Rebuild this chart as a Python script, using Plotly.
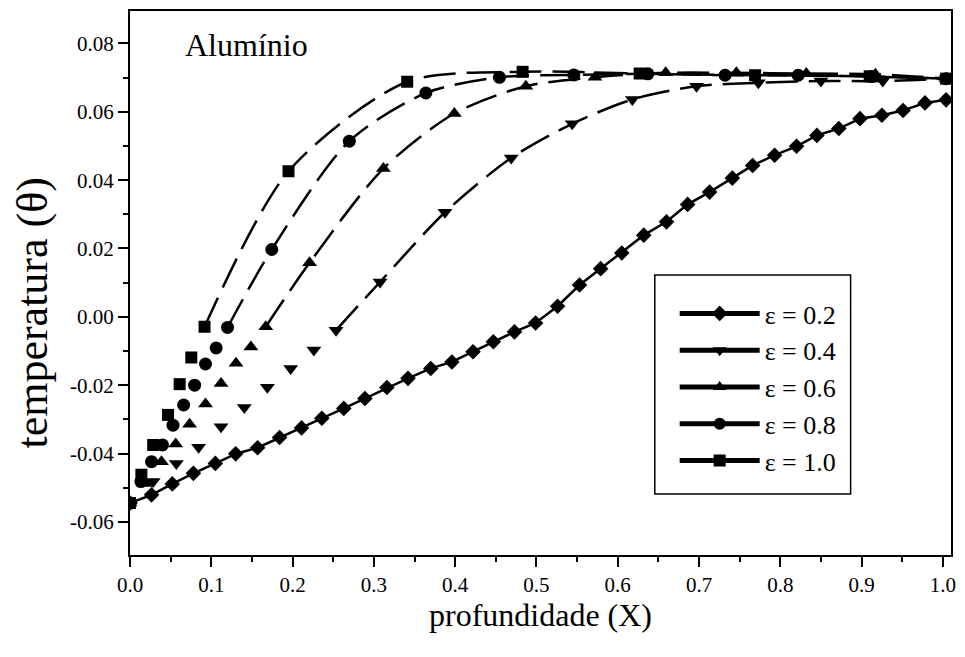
import plotly.graph_objects as go

# ---------------- data ----------------
labels = ["ε = 0.2", "ε = 0.4", "ε = 0.6", "ε = 0.8", "ε = 1.0"]

x02 = [0.0, 0.0265, 0.052, 0.078, 0.105, 0.130, 0.157, 0.184, 0.211, 0.236,
       0.263, 0.289, 0.316, 0.342, 0.370, 0.396, 0.422, 0.447, 0.473, 0.499,
       0.526, 0.553, 0.579, 0.605, 0.632, 0.660, 0.686, 0.713, 0.741, 0.766,
       0.793, 0.820, 0.845, 0.872, 0.898, 0.925, 0.951, 0.978, 1.004]
y02 = [-0.0545, -0.0521, -0.0489, -0.0458, -0.0429, -0.0401, -0.0383, -0.0353, -0.0325, -0.0297,
       -0.0268, -0.0239, -0.0207, -0.0180, -0.0151, -0.0132, -0.0102, -0.0073, -0.0044, -0.0018,
       0.0031, 0.0093, 0.0141, 0.0187, 0.0239, 0.0278, 0.0329, 0.0365, 0.0406, 0.0443,
       0.0473, 0.0499, 0.0531, 0.0551, 0.0580, 0.0590, 0.0604, 0.0626, 0.0635]

x04 = [0.0, 0.0285, 0.057, 0.0844, 0.112, 0.1406, 0.169, 0.1977, 0.2262, 0.2535,
       0.3076, 0.3875, 0.469, 0.544, 0.618, 0.697, 0.773, 0.850, 0.926, 1.004]
y04 = [-0.0545, -0.0482, -0.0429, -0.0382, -0.0322, -0.0265, -0.0206, -0.0151, -0.0097, -0.0039,
       0.0102, 0.0306, 0.0465, 0.0565, 0.0636, 0.0675, 0.0685, 0.0690, 0.0690, 0.0697]

x06 = [0.0, 0.0186, 0.0387, 0.0562, 0.0733, 0.0929, 0.112, 0.1304, 0.1487, 0.167,
       0.2209, 0.3117, 0.399, 0.487, 0.572, 0.659, 0.746, 0.832, 0.917, 1.004]
y06 = [-0.0545, -0.0488, -0.0424, -0.0372, -0.0314, -0.0255, -0.0195, -0.0136, -0.0088, -0.0029,
       0.0158, 0.0434, 0.0595, 0.0675, 0.0701, 0.0714, 0.0714, 0.0712, 0.0710, 0.0697]

x08 = [0.0, 0.0134, 0.0265, 0.040, 0.0529, 0.066, 0.0795, 0.0929, 0.106, 0.120,
       0.1744, 0.2698, 0.364, 0.4545, 0.546, 0.637, 0.732, 0.822, 0.912, 1.004]
y08 = [-0.0545, -0.0482, -0.0424, -0.0375, -0.0317, -0.0258, -0.0200, -0.0138, -0.0091, -0.0031,
       0.0197, 0.0514, 0.0655, 0.0701, 0.0708, 0.0711, 0.0707, 0.0707, 0.0703, 0.0697]

x10 = [0.0, 0.014, 0.0285, 0.0468, 0.0611, 0.0754, 0.0917,
       0.195, 0.341, 0.483, 0.627, 0.769, 0.910, 1.004]
y10 = [-0.0545, -0.0462, -0.0375, -0.0287, -0.0197, -0.0119, -0.0029,
       0.0426, 0.0688, 0.0717, 0.0712, 0.0707, 0.0704, 0.0697]

# index from which the dashed curve is drawn (earlier points are markers only)
line_from = [0, 9, 9, 9, 6]

xtick_vals = [0.0, 0.1, 0.2, 0.3, 0.4, 0.5, 0.6, 0.7, 0.8, 0.9, 1.0]
xtick_text = ["0.0", "0.1", "0.2", "0.3", "0.4", "0.5", "0.6", "0.7", "0.8", "0.9", "1.0"]
ytick_vals = [-0.06, -0.04, -0.02, 0.0, 0.02, 0.04, 0.06, 0.08]
ytick_text = ["-0.06", "-0.04", "-0.02", "0.00", "0.02", "0.04", "0.06", "0.08"]

# ---------------- figure ----------------
SERIF = "Liberation Serif"
series = [(x02, y02), (x04, y04), (x06, y06), (x08, y08), (x10, y10)]
symbols = ["diamond", "triangle-down", "triangle-up", "circle", "square"]
msizes = [12, 13, 13, 13, 12]

fig = go.Figure()

for i, ((xs, ys), sym, ms) in enumerate(zip(series, symbols, msizes)):
    k = line_from[i]
    if i == 0:
        fig.add_trace(go.Scatter(x=xs, y=ys, mode="lines", showlegend=False,
                                 line=dict(color="black", width=2.5), hoverinfo="skip"))
    else:
        fig.add_trace(go.Scatter(x=xs[k:], y=ys[k:], mode="lines", showlegend=False,
                                 line=dict(color="black", width=2.5, dash="32px,11px",
                                           shape="spline", smoothing=0.8),
                                 hoverinfo="skip"))
    fig.add_trace(go.Scatter(x=xs, y=ys, mode="markers", showlegend=False,
                             marker=dict(symbol=sym, size=ms, color="black",
                                         line=dict(width=0))))

# legend entries (solid line with marker)
for lab, sym, ms in zip(labels, symbols, msizes):
    fig.add_trace(go.Scatter(x=[None], y=[None], mode="lines+markers", name=lab,
                             line=dict(color="black", width=1.5),
                             marker=dict(symbol=sym, size=ms, color="black")))

axis_common = dict(
    showgrid=False, zeroline=False, showline=True, linecolor="black", linewidth=2,
    mirror=True, ticks="outside", ticklen=10, tickwidth=2, tickcolor="black",
    tickfont=dict(family=SERIF, size=21, color="black"),
)

fig.update_xaxes(range=[0, 1.01], tickmode="array", tickvals=xtick_vals, ticktext=xtick_text,
                 minor=dict(ticks="outside", ticklen=5, tickwidth=1.5, dtick=0.05, tick0=0,
                            tickcolor="black"),
                 title=dict(text="profundidade (X)", font=dict(family=SERIF, size=32, color="black"),
                            standoff=0),
                 **axis_common)
fig.update_yaxes(range=[-0.0697, 0.0895], tickmode="array", tickvals=ytick_vals, ticktext=ytick_text,
                 minor=dict(ticks="outside", ticklen=5, tickwidth=1.5, dtick=0.01, tick0=0,
                            tickcolor="black"),
                 **axis_common)

fig.add_annotation(text="temperatura (θ)", xref="paper", yref="paper", x=-0.1186, y=0.445,
                   xanchor="center", yanchor="middle", textangle=-90, showarrow=False,
                   font=dict(family=SERIF, size=44, color="black"))
fig.add_annotation(text="Alumínio", xref="paper", yref="paper", x=0.064, y=0.9375,
                   xanchor="left", yanchor="middle", showarrow=False,
                   font=dict(family=SERIF, size=32, color="black"))

# legend frame
fig.add_shape(type="rect", xref="paper", yref="paper",
              x0=(658 - 130) / 826, x1=(855 - 130) / 826,
              y0=(555 - 494) / 544, y1=(555 - 275) / 544,
              line=dict(color="black", width=1.5), fillcolor="white", layer="below")

fig.update_layout(
    width=965, height=657,
    margin=dict(l=130, r=9, t=11, b=102),
    paper_bgcolor="white", plot_bgcolor="rgba(0,0,0,0)",
    font=dict(family=SERIF, color="black"),
    legend=dict(x=(678 - 130) / 826, y=(555 - 290) / 544, xanchor="left", yanchor="top",
                bgcolor="rgba(0,0,0,0)", borderwidth=0,
                font=dict(family=SERIF, size=26, color="black"),
                itemwidth=80, itemsizing="constant"),
)

fig.write_html("out.html")
